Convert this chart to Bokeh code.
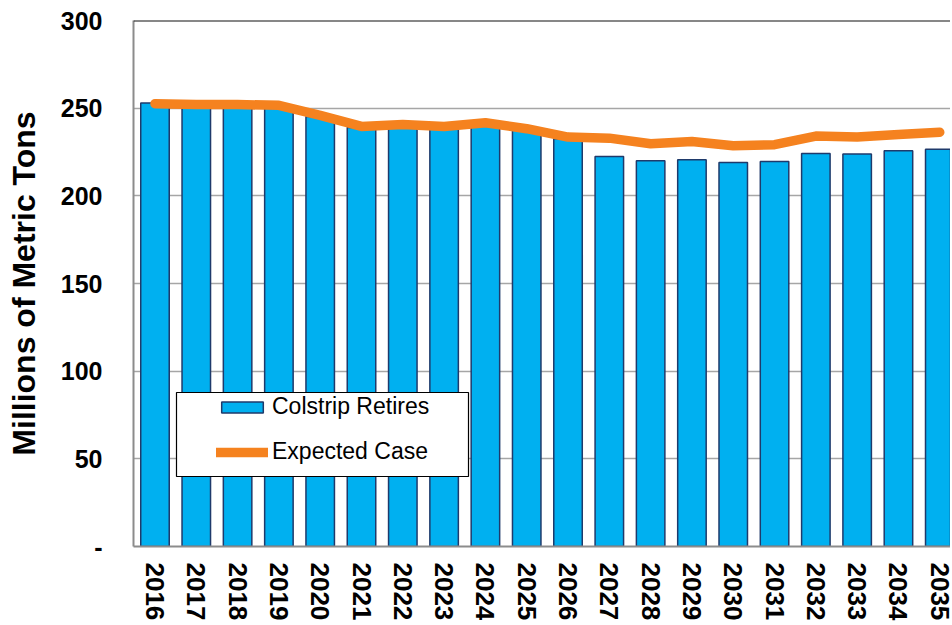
from bokeh.plotting import figure
from bokeh.models import (ColumnDataSource, FixedTicker, Range1d, Legend, LegendItem,
                          BoxAnnotation, Span)
from bokeh.embed import file_html
from bokeh.resources import INLINE

years = list(range(2016, 2036))
colstrip_retires = [252.9, 251.6, 251.6, 251.0, 245.3, 239.0, 240.1, 239.0, 241.1, 237.7,
                    232.5, 222.5, 220.0, 220.6, 219.0, 219.6, 224.2, 223.8, 225.7, 226.6]
expected_case = [252.5, 252.1, 252.1, 251.6, 245.9, 239.6, 240.7, 239.6, 241.7, 238.3,
                 233.5, 232.9, 229.7, 231.0, 228.6, 229.2, 234.1, 233.5, 235.0, 236.3]
y_ticks = [0, 50, 100, 150, 200, 250, 300]
y_tick_labels = {0: "-"}
Y_MAX = 300

src = ColumnDataSource(dict(year=years, bars=colstrip_retires, line=expected_case))

FONT = "Liberation Sans"

p = figure(width=950, height=623, output_backend="svg", toolbar_location=None,
           x_range=Range1d(2015.48, 2035.26), y_range=Range1d(0, Y_MAX),
           min_border_left=133, min_border_right=0, min_border_top=20, min_border_bottom=77)
p.outline_line_color = None
p.background_fill_color = "white"

p.xgrid.grid_line_color = None
p.ygrid.grid_line_color = "#A6A6A6"
p.ygrid.grid_line_width = 1.5
p.yaxis.ticker = FixedTicker(ticks=y_ticks)
p.xaxis.ticker = FixedTicker(ticks=years)
p.yaxis.major_label_overrides = y_tick_labels

for ax in (p.xaxis[0], p.yaxis[0]):
    ax.axis_line_color = "#8C8C8C"
    ax.axis_line_width = 2
    ax.major_tick_line_color = None
    ax.minor_tick_line_color = None
    ax.major_tick_out = 0
    ax.major_tick_in = 0
    ax.minor_tick_out = 0
    ax.major_label_text_font = FONT
    ax.major_label_text_font_style = "bold"
    ax.major_label_text_color = "black"

p.yaxis.major_label_text_font_size = "25px"
p.yaxis.major_label_standoff = 31
p.xaxis.major_label_text_font_size = "26px"
p.xaxis.major_label_orientation = "vertical"
p.xaxis.major_label_standoff = 16

p.yaxis.axis_label = "Millions of Metric Tons"
p.yaxis.axis_label_text_font = FONT
p.yaxis.axis_label_text_font_style = "bold"
p.yaxis.axis_label_text_font_size = "32px"
p.yaxis.axis_label_text_color = "black"
p.yaxis.axis_label_standoff = 16

p.add_layout(Span(location=Y_MAX, dimension="width", line_color="#111111", line_width=2))

bars = p.vbar(x="year", top="bars", width=0.69, source=src,
              fill_color="#00B0F0", line_color="#1F3A6B", line_width=1.5)
line = p.line(x="year", y="line", source=src, line_color="#F5821F", line_width=9.5,
              line_cap="round", line_join="round")

box = BoxAnnotation(left=43, right=335, bottom=70, top=154,
                    left_units="screen", right_units="screen",
                    bottom_units="screen", top_units="screen",
                    fill_color="white", fill_alpha=1.0,
                    line_color="black", line_width=1.2, line_alpha=1.0)
p.add_layout(box)

legend = Legend(items=[LegendItem(label="Colstrip Retires", renderers=[bars]),
                       LegendItem(label="Expected Case", renderers=[line])],
                location=(83, 81), padding=0, margin=0, spacing=18,
                glyph_width=52, glyph_height=14, label_height=22, label_standoff=4,
                label_text_font=FONT, label_text_font_size="23px",
                label_text_color="black",
                border_line_color=None, background_fill_alpha=0)
p.add_layout(legend)

open("out.html", "w").write(file_html(p, INLINE))
